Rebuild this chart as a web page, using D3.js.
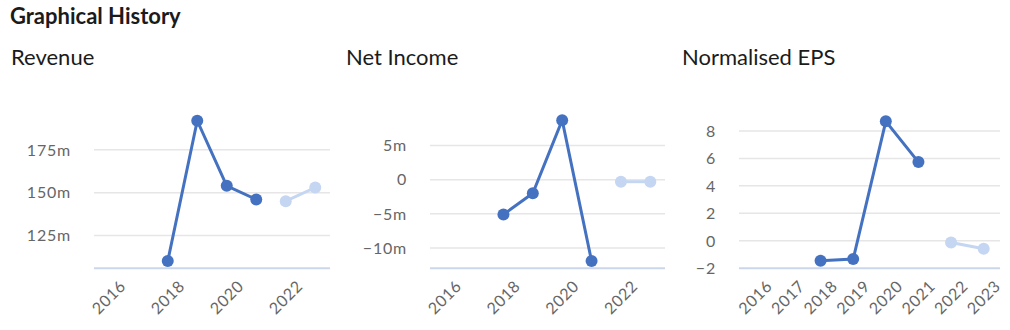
<!DOCTYPE html>
<html>
<head>
<meta charset="utf-8">
<script src="https://cdn.jsdelivr.net/npm/d3@7"></script>
<style>
  body { margin: 0; background: #fff; font-family: Lato, "Open Sans", sans-serif; }
  svg text { font-family: Lato, "Open Sans", sans-serif; }
</style>
</head>
<body>
<div id="chart"></div>
<script>
var width = 1010;
var height = 330;

var years = [2016, 2017, 2018, 2019, 2020, 2021, 2022, 2023];

// values in millions (revenue, net income) and per share (eps)
var revenueActual = [null, null, 110, 192, 154, 146, null, null];
var revenueForecast = [null, null, null, null, null, null, 145, 153];
var incomeActual = [null, null, -5.1, -2.0, 8.7, -11.9, null, null];
var incomeForecast = [null, null, null, null, null, null, -0.3, -0.3];
var epsActual = [null, null, -1.45, -1.33, 8.7, 5.73, null, null];
var epsForecast = [null, null, null, null, null, null, -0.12, -0.58];

var revenueTicks = [125, 150, 175];
var incomeTicks = [-10, -5, 0, 5];
var epsTicks = [-2, 0, 2, 4, 6, 8];

var darkBlue = "#4472c1";
var lightBlue = "#c5d6f2";

var svg = d3.select("#chart").append("svg")
    .attr("width", width).attr("height", height);

svg.append("text")
    .attr("x", 10).attr("y", 24)
    .style("font-size", "22px").style("font-weight", "bold")
    .style("fill", "#1b1b1b")
    .text("Graphical History");

function mFormat(v) {
    if (v === 0) return "0";
    return (v < 0 ? "\u2212" + Math.abs(v) : v) + "m";
}
function plainFormat(v) {
    return v < 0 ? "\u2212" + Math.abs(v) : String(v);
}

var charts = [
    { title: "Revenue", titleX: 11, left: 94, right: 330, domain: [105.8, 195], top: 115.6,
      actual: revenueActual, forecast: revenueForecast, ticks: revenueTicks, fmt: mFormat, everyOther: true },
    { title: "Net Income", titleX: 346, left: 430, right: 665, domain: [-12.97, 9.5], top: 114.7,
      actual: incomeActual, forecast: incomeForecast, ticks: incomeTicks, fmt: mFormat, everyOther: true },
    { title: "Normalised EPS", titleX: 682, left: 739, right: 1000, domain: [-2, 9.5], top: 110.3,
      actual: epsActual, forecast: epsForecast, ticks: epsTicks, fmt: plainFormat, everyOther: false }
];

var bottom = 268.3;

charts.forEach(function(c) {
    var g = svg.append("g");

    g.append("text")
        .attr("x", c.titleX).attr("y", 65)
        .style("font-size", "22px").style("fill", "#1b1b1b")
        .text(c.title);

    var x = d3.scaleBand().domain(years).range([c.left, c.right]);
    var y = d3.scaleLinear().domain(c.domain).range([bottom, c.top]);

    // grid lines
    g.selectAll(".grid").data(c.ticks.filter(function(t) { return y(t) < bottom - 1; }))
        .enter().append("line")
        .attr("x1", c.left).attr("x2", c.right)
        .attr("y1", function(d) { return y(d); })
        .attr("y2", function(d) { return y(d); })
        .style("stroke", "#e6e6e6").style("stroke-width", 1.5);

    // y labels
    g.selectAll(".ylab").data(c.ticks)
        .enter().append("text")
        .attr("x", c.left - 23)
        .attr("y", function(d) { return y(d); })
        .attr("dy", "0.36em")
        .attr("text-anchor", "end")
        .style("font-size", "16px").style("fill", "#666")
        .style("letter-spacing", "0.8px")
        .text(function(d) { return c.fmt(d); });

    // axis line
    g.append("line")
        .attr("x1", c.left).attr("x2", c.right)
        .attr("y1", bottom).attr("y2", bottom)
        .style("stroke", "#ccd6eb").style("stroke-width", 2);

    // x labels
    var shown = years.filter(function(d, i) { return !c.everyOther || i % 2 === 0; });
    g.selectAll(".xlab").data(shown)
        .enter().append("text")
        .attr("transform", function(d) {
            return "translate(" + (x(d) + x.bandwidth() / 2 + 10) + "," + (bottom + 11) + ") rotate(-45)";
        })
        .attr("text-anchor", "end")
        .attr("dy", "0.7em")
        .style("font-size", "16px").style("fill", "#666")
        .style("letter-spacing", "0.6px")
        .text(function(d) { return d; });

    function drawSeries(values, color) {
        var pts = years.map(function(yr, i) { return { yr: yr, v: values[i] }; })
            .filter(function(p) { return p.v !== null; });
        var line = d3.line()
            .x(function(p) { return x(p.yr) + x.bandwidth() / 2; })
            .y(function(p) { return y(p.v); });
        g.append("path").datum(pts)
            .attr("d", line)
            .style("fill", "none").style("stroke", color).style("stroke-width", 3);
        g.selectAll(null).data(pts).enter().append("circle")
            .attr("cx", function(p) { return x(p.yr) + x.bandwidth() / 2; })
            .attr("cy", function(p) { return y(p.v); })
            .attr("r", 6)
            .style("fill", color);
    }

    drawSeries(c.actual, darkBlue);
    drawSeries(c.forecast, lightBlue);
});
</script>
</body>
</html>
